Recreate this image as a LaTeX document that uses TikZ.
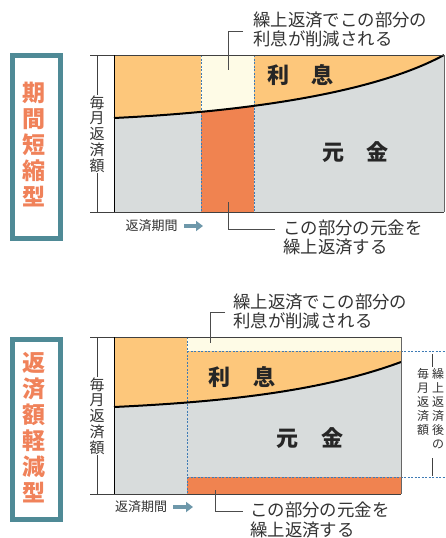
\documentclass[tikz,border=0pt]{standalone}
\usepackage{fontspec}
\newfontfamily\jp{Noto Sans CJK JP}
\usetikzlibrary{arrows.meta}
\definecolor{intc}{HTML}{FDC77B}
\definecolor{prin}{HTML}{D8DCDC}
\definecolor{dorg}{HTML}{F08350}
\definecolor{pale}{HTML}{FEFBE6}
\definecolor{dblue}{HTML}{3E7BB5}
\definecolor{teal}{HTML}{4F8A96}
\definecolor{ttl}{HTML}{F0825A}
\definecolor{txt}{HTML}{333333}
\definecolor{arr}{HTML}{6E98AA}
\tikzset{
  note/.style={font=\jp\fontsize{17.4}{19.5}\selectfont, text=txt, inner sep=0pt, align=left, anchor=west},
  big/.style={font=\jp\bfseries\fontsize{22}{24}\selectfont, text=black!85, inner sep=0pt},
  axlab/.style={font=\jp\fontsize{15}{15.8}\selectfont, text=txt, inner sep=0pt, align=center, fill=white},
  rlab/.style={font=\jp\fontsize{12}{14}\selectfont, text=txt, inner sep=0pt, align=center, anchor=north},
  perlab/.style={font=\jp\fontsize{13}{14}\selectfont, text=txt, inner sep=0pt},
  titletext/.style={font=\jp\bfseries\fontsize{23}{26}\selectfont, text=ttl, align=center, inner sep=0pt},
  frame/.style={draw=teal, line width=5pt, fill=white},
  dl/.style={draw=dblue, dash pattern=on 2pt off 1.5pt, line width=0.8pt},
  leader/.style={draw=black!70, line width=0.8pt},
  curveline/.style={draw=black, line width=2pt},
  axline/.style={draw=black!75, line width=0.9pt},
  parr/.style={draw=arr, line width=4pt, -{Triangle[width=10pt,length=7pt]}},
}
\begin{document}
\begin{tikzpicture}[x=1pt,y=-1pt]
\useasboundingbox (0,0) rectangle (445,538);
\clip (0,0) rectangle (445,538);
\fill[white] (0,0) rectangle (445,538);

% ===================== TOP PANEL =====================
\node[frame, minimum width=48pt, minimum height=183pt, anchor=north west] (f1) at (9.5,52.5) {};
\node[titletext] (t1) at (33.5,145) {期\\間\\短\\縮\\型};

\fill[prin] (114,55) rectangle (444,212);
\fill[intc] (114,118) .. controls (260,111) and (380,90) .. (444,55) -- (114,55) -- cycle;
\begin{scope}
  \clip (114,118) .. controls (260,111) and (380,90) .. (444,55) -- (114,55) -- cycle;
  \fill[pale] (201,55) rectangle (254,212);
\end{scope}
\begin{scope}
  \clip (114,118) .. controls (260,111) and (380,90) .. (444,55) -- (444,212) -- (114,212) -- cycle;
  \fill[dorg] (201,55) rectangle (254,212);
\end{scope}
\draw[dl] (201,55) -- (201,212);
\draw[dl] (254,55) -- (254,212);
\draw[curveline] (114,118) .. controls (260,111) and (380,90) .. (444,55);
\draw[axline] (90,55) -- (444,55);
\draw[axline] (90,212) -- (444,212);
\draw[black, line width=1pt] (114,55) -- (114,212);
\draw[black!60, line width=0.8pt] (444,55) -- (444,212);

\coordinate (a1t) at (97,55);
\coordinate (a1b) at (97,212);
\draw[axline] (a1t) -- (a1b);
\node[axlab] (ax1) at (97,134) {毎\\月\\返\\済\\額};

\node[big] (ri1) at (300.5,75) {利\hspace{23pt}息};
\node[big] (gk1) at (355.5,152) {元\hspace{23pt}金};

\node[note] (n1) at (253,29.5) {繰上返済でこの部分の\\利息が削減される};
\coordinate (l1a) at (243,31);
\coordinate (l1b) at (228,31);
\coordinate (l1c) at (228,70);
\draw[leader] (l1a) -- (l1b) -- (l1c);

\node[note] (n2) at (283,237.5) {この部分の元金を\\繰上返済する};
\coordinate (l2a) at (228,202);
\coordinate (l2b) at (228,229);
\coordinate (l2c) at (275,229);
\draw[leader] (l2a) -- (l2b) -- (l2c);

\node[perlab] (p1) at (151.5,226) {返済期間};
\coordinate (ar1a) at (184,226);
\coordinate (ar1b) at (203,226);
\draw[parr] (ar1a) -- (ar1b);

% ===================== BOTTOM PANEL =====================
\node[frame, minimum width=48pt, minimum height=180pt, anchor=north west] (f2) at (9.5,336.5) {};
\node[titletext] (t2) at (33.5,428) {返\\済\\額\\軽\\減\\型};

\fill[prin] (114,337) rectangle (401,494);
\fill[intc] (114,407) .. controls (220,402) and (320,392) .. (401,362) -- (401,337) -- (114,337) -- cycle;
\fill[pale] (187,337) rectangle (401,351);
\fill[dorg] (187,477) rectangle (401,494);
\draw[dl] (187,337) -- (187,494);
\draw[dl] (187,351) -- (445,351);
\draw[dl] (187,477) -- (445,477);
\draw[curveline] (114,407) .. controls (220,402) and (320,392) .. (401,362);
\draw[axline] (90,337) -- (401,337);
\draw[axline] (90,494) -- (401,494);
\draw[black, line width=1pt] (114,337) -- (114,494);
\draw[black!60, line width=0.8pt] (401,337) -- (401,494);

\coordinate (a2t) at (97,337);
\coordinate (a2b) at (97,494);
\draw[axline] (a2t) -- (a2b);
\node[axlab] (ax2) at (97,416) {毎\\月\\返\\済\\額};

\node[big] (ri2) at (242,377) {利\hspace{23pt}息};
\node[big] (gk2) at (310,438) {元\hspace{23pt}金};

\node[note] (n3) at (233,311.5) {繰上返済でこの部分の\\利息が削減される};
\coordinate (l3a) at (225,312);
\coordinate (l3b) at (210,312);
\coordinate (l3c) at (210,343);
\draw[leader] (l3a) -- (l3b) -- (l3c);

\node[note] (n4) at (250,520) {この部分の元金を\\繰上返済する};
\coordinate (l4a) at (215,490);
\coordinate (l4b) at (215,511);
\coordinate (l4c) at (243,511);
\draw[leader] (l4a) -- (l4b) -- (l4c);

\node[perlab] (p2) at (141,507) {返済期間};
\coordinate (ar2a) at (173,507);
\coordinate (ar2b) at (193,507);
\draw[parr] (ar2a) -- (ar2b);

% right bracket
\coordinate (rb1) at (432,354);
\coordinate (rb2) at (432,367);
\coordinate (rb3) at (432,458);
\coordinate (rb4) at (432,476);
\draw[black!75, line width=0.8pt] (rb1) -- (rb2);
\draw[black!75, line width=0.8pt] (rb3) -- (rb4);
\node[rlab] (r1) at (423,368) {毎\\月\\返\\済\\額};
\node[rlab] (r2) at (438,368) {繰\\上\\返\\済\\後\\の};
\end{tikzpicture}
\end{document}
